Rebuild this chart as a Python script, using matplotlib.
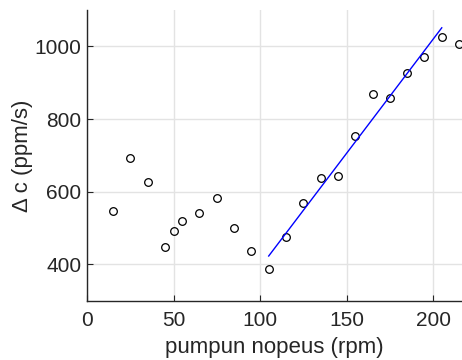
import matplotlib
matplotlib.use("Agg")
import matplotlib.pyplot as plt

plt.rcParams['font.family'] = ['Liberation Sans', 'DejaVu Sans']

rpm = [15, 25, 35, 45, 50, 55, 65, 75, 85, 95, 105, 115, 125, 135, 145,
       155, 165, 175, 185, 195, 205, 215]
dc = [546, 692, 628, 449, 492, 520, 540, 582, 499, 438, 386, 475, 570, 639,
      642, 754, 869, 858, 927, 970, 1026, 1006]
fit_x = [105, 205]
fit_y = [423, 1051]

xticks = [0, 50, 100, 150, 200]
yticks = [400, 600, 800, 1000]

fig = plt.figure(figsize=(4.62, 3.6), dpi=100)
ax = fig.add_axes([87/462, 1 - 300.7/360, 1 - 87/462, (300.7 - 10)/360])

ax.plot(rpm, dc, linestyle='none', marker='o', markersize=5.5,
        markerfacecolor='none', markeredgecolor='black', markeredgewidth=0.9)
ax.plot(fit_x, fit_y, color='#0000ff', linewidth=1.0)

ax.set_xlim(0, 216.7)
ax.set_ylim(300, 1100)
ax.set_xticks(xticks)
ax.set_yticks(yticks)
ax.grid(True, color='#e3e3e3', linewidth=1.0)
ax.set_axisbelow(True)
for s in ['top', 'right']:
    ax.spines[s].set_visible(False)
for s in ['left', 'bottom']:
    ax.spines[s].set_color('#262626')
    ax.spines[s].set_linewidth(1.0)
ax.tick_params(direction='in', length=4, color='#262626', labelcolor='#262626',
               labelsize=15)
ax.tick_params(axis='x', pad=7.5)
ax.tick_params(axis='y', pad=4)
ax.set_xlabel('pumpun nopeus (rpm)', fontsize=16, color='#262626', labelpad=5)
ax.set_ylabel('Δ c (ppm/s)', fontsize=16, color='#262626', labelpad=1)

fig.savefig('out.png', dpi=100)
